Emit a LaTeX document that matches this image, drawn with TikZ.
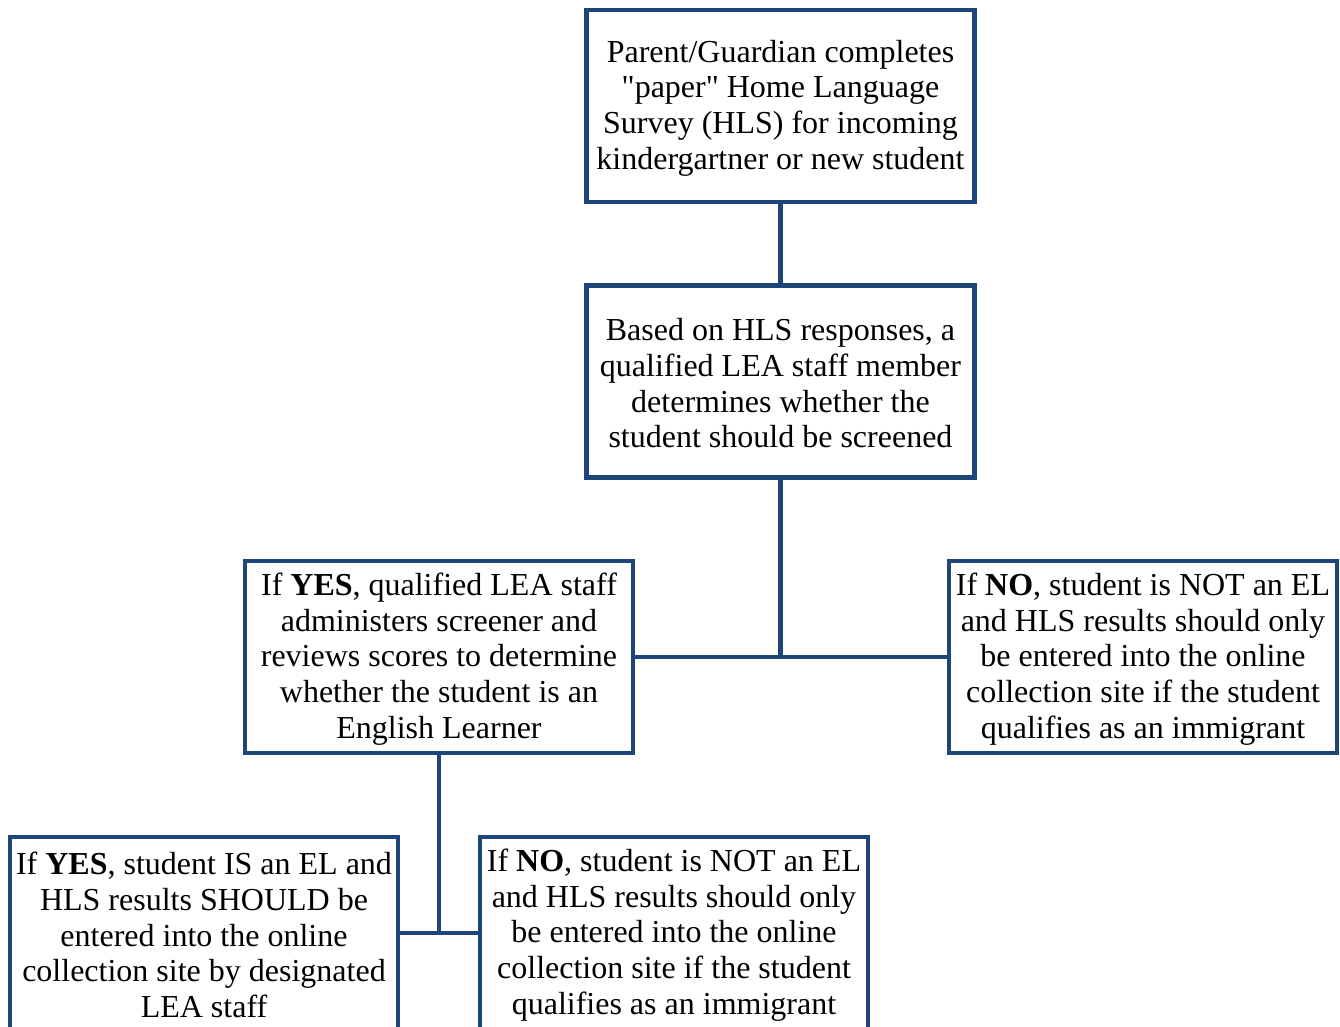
\documentclass[tikz,border=0pt]{standalone}
\usepackage{fontspec}
\setmainfont{Liberation Serif}
\newfontfamily\qfont{Liberation Serif}
\definecolor{boxblue}{RGB}{31,70,122}
\tikzset{
  box/.style={draw=boxblue, line width=2.3pt, fill=white,
    minimum width=194pt, minimum height=96pt, inner sep=0pt},
  txt/.style={align=center, inner sep=0pt,
    font=\fontsize{16pt}{17.85pt}\selectfont},
  conn/.style={draw=boxblue, line width=2.3pt}
}
\newcommand{\sq}{{\qfont"}}
\begin{document}
\begin{tikzpicture}[x=0.5pt,y=-0.5pt]
\useasboundingbox (0,0) rectangle (1340,1027);
\clip (0,0) rectangle (1340,1027);
\fill[white] (0,0) rectangle (1340,1027);
\node[box] (b1) at (780.5,106) {};
\node[box] (b2) at (780.5,381.5) {};
\node[box] (b3) at (439,657) {};
\node[box] (b4) at (1143,657) {};
\node[box] (b5) at (204,933) {};
\node[box] (b6) at (674,933) {};
\node[txt] (t1) at ([yshift=-1pt]b1.center) {Parent/Guardian completes\\ \sq paper\sq{} Home Language\\ Survey (HLS) for incoming\\ kindergartner or new student};
\node[txt] (t2) at ([yshift=-1pt]b2.center) {Based on HLS responses, a\\ qualified LEA staff member\\ determines whether the\\ student should be screened};
\node[txt] (t3) at ([yshift=-1pt]b3.center) {If \textbf{YES}, qualified LEA staff\\ administers screener and\\ reviews scores to determine\\ whether the student is an\\ English Learner};
\node[txt] (t4) at ([yshift=-1pt]b4.center) {If \textbf{NO}, student is NOT an EL\\ and HLS results should only\\ be entered into the online\\ collection site if the student\\ qualifies as an immigrant};
\node[txt] (t5) at ([yshift=-1pt]b5.center) {If \textbf{YES}, student IS an EL and\\ HLS results SHOULD be\\ entered into the online\\ collection site by designated\\ LEA staff};
\node[txt] (t6) at ([yshift=-1pt]b6.center) {If \textbf{NO}, student is NOT an EL\\ and HLS results should only\\ be entered into the online\\ collection site if the student\\ qualifies as an immigrant};
\coordinate (j1) at (b2.south |- b3.east);
\coordinate (j2) at (b3.south |- b5.east);
\draw[conn] (b1.south) -- (b2.north);
\draw[conn] (b2.south) -- (j1);
\draw[conn] (b3.east) -- (b4.west);
\draw[conn] (b3.south) -- (j2);
\draw[conn] (b5.east) -- (b6.west);
\end{tikzpicture}
\end{document}
